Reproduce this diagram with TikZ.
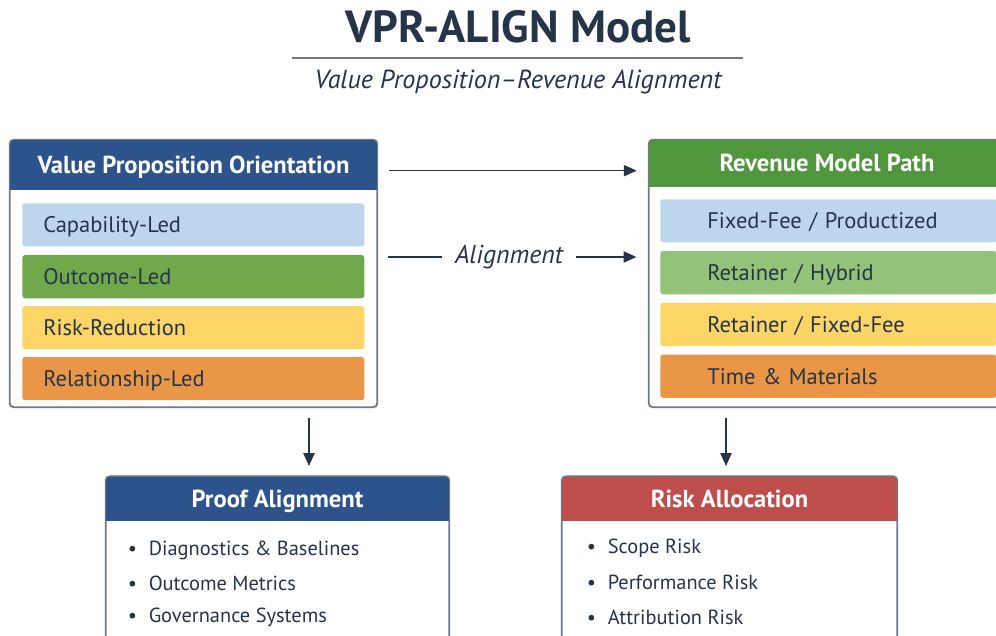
\documentclass[tikz,border=0pt]{standalone}
\usepackage{fontspec}
\setmainfont{PT Sans}
\usetikzlibrary{arrows.meta, positioning, calc}
\definecolor{cInk}{RGB}{38,52,74}
\definecolor{cFrame}{RGB}{112,122,134}
\definecolor{cNavy}{RGB}{45,83,140}
\definecolor{cGreen}{RGB}{79,150,61}
\definecolor{cRed}{RGB}{190,78,75}
\definecolor{cSky}{RGB}{190,214,236}
\definecolor{cLeaf}{RGB}{112,169,76}
\definecolor{cMint}{RGB}{146,195,121}
\definecolor{cSun}{RGB}{251,213,102}
\definecolor{cAmber}{RGB}{233,151,70}
\tikzset{
	panel/.style   ={rectangle, rounded corners=3pt, draw=cFrame, line width=0.8pt, fill=white},
	head/.style    ={rectangle, rounded corners=3pt, anchor=north, text depth=0pt, text=white, font=\bfseries\fontsize{17.5}{20}\selectfont},
	band/.style    ={rectangle, rounded corners=2pt, minimum height=1.08cm, anchor=north west, text depth=0pt, align=left, text=cInk, font=\fontsize{16}{19}\selectfont},
	item/.style    ={anchor=west, text=cInk, font=\fontsize{14.5}{17}\selectfont},
	flow/.style    ={-{Triangle[length=3.2mm, width=2.8mm]}, line width=1pt, draw=cInk},
}

\begin{document}
\begin{tikzpicture}[x=0.025cm, y=-0.025cm]
	\path[use as bounding box, clip] (0,0) rectangle (996,636);
	% title block
	\node[font=\bfseries\fontsize{32}{38}\selectfont, text=cInk] (title) at (518,27) {VPR-ALIGN Model};
	\draw[cFrame, line width=0.8pt] (292,58) -- (743,58);
	\node[font=\itshape\fontsize{18.6}{22}\selectfont, text=cInk] (subtitle) at (518,82) {Value Proposition–Revenue Alignment};

	% left panel: orientation
	\node[panel, minimum width=9.175cm, minimum height=6.675cm] (vpo) at (193.5,273.5) {};
	\node[head, fill=cNavy, minimum width=9.175cm, minimum height=1.25cm] (vpoHead) at (vpo.north) {Value Proposition Orientation};
	\fill[cNavy] ([yshift=4pt]vpoHead.south west) rectangle (vpoHead.south east);
	\draw[cFrame, line width=0.8pt, rounded corners=3pt] (vpo.north west) rectangle (vpo.south east);
	\node[band, fill=cSky, minimum width=8.55cm, text width=7.5cm, inner xsep=0.525cm] (vCap) at (22,203) {Capability-Led};
	\node[band, fill=cLeaf, minimum width=8.55cm, text width=7.5cm, inner xsep=0.525cm, below=0.2cm of vCap] (vOut) {Outcome-Led};
	\node[band, fill=cSun, minimum width=8.55cm, text width=7.5cm, inner xsep=0.525cm, below=0.18cm of vOut] (vRisk) {Risk-Reduction};
	\node[band, fill=cAmber, minimum width=8.55cm, text width=7.5cm, inner xsep=0.525cm, below=0.18cm of vRisk] (vRel) {Relationship-Led};

	% right panel: revenue model
	\node[panel, minimum width=8.9cm, minimum height=6.675cm] (rmp) at (827,273.5) {};
	\node[head, fill=cGreen, minimum width=8.9cm, minimum height=1.175cm] (rmpHead) at (rmp.north) {Revenue Model Path};
	\fill[cGreen] ([yshift=4pt]rmpHead.south west) rectangle (rmpHead.south east);
	\draw[cFrame, line width=0.8pt, rounded corners=3pt] (rmp.north west) rectangle (rmp.south east);
	\node[band, fill=cSky, minimum width=8.4cm, text width=6.05cm, inner xsep=1.175cm] (rFix) at (660,199) {Fixed-Fee / Productized};
	\node[band, fill=cMint, minimum width=8.4cm, text width=6.05cm, inner xsep=1.175cm, below=0.2cm of rFix] (rHyb) {Retainer / Hybrid};
	\node[band, fill=cSun, minimum width=8.4cm, text width=6.05cm, inner xsep=1.175cm, below=0.2cm of rHyb] (rRet) {Retainer / Fixed-Fee};
	\node[band, fill=cAmber, minimum width=8.4cm, text width=6.05cm, inner xsep=1.175cm, below=0.2cm of rRet] (rTM) {Time \& Materials};

	% links between the panels
	\coordinate (topL) at ([xshift=0.3cm, yshift=-0.15cm]vpoHead.east);
	\draw[flow, shorten >=0.3cm] (topL) -- (topL -| rmpHead.west);
	\node[font=\itshape\fontsize{18.4}{22}\selectfont, text=cInk] (alignTxt) at (509,257) {Alignment};
	\draw[cInk, line width=1pt, shorten <=0.25cm, shorten >=0.2cm] (alignTxt.west -| vpo.east) -- (alignTxt.west);
	\draw[flow, shorten <=0.2cm, shorten >=0.3cm] (alignTxt.east) -- (alignTxt.east -| rmp.west);

	% lower panels
	\node[panel, minimum width=8.575cm, minimum height=5cm, anchor=north] (proof) at (277.5,476) {};
	\node[head, fill=cNavy, minimum width=8.575cm, minimum height=1.1cm] (proofHead) at (proof.north) {Proof Alignment};
	\fill[cNavy] ([yshift=4pt]proofHead.south west) rectangle (proofHead.south east);
	\draw[cFrame, line width=0.8pt, rounded corners=3pt] (proof.north west) rectangle (proof.south east);
	\foreach \t [count=\i] in {Diagnostics \& Baselines, Outcome Metrics, Governance Systems}
		\node[item] (pf\i) at (123,{516.5+33.5*\i}) {\makebox[0.52cm][l]{\textbullet}\t};

	\node[panel, minimum width=8.375cm, minimum height=5cm, anchor=north] (risk) at (729.5,476) {};
	\node[head, fill=cRed, minimum width=8.375cm, minimum height=1.1cm] (riskHead) at (risk.north) {Risk Allocation};
	\fill[cRed] ([yshift=4pt]riskHead.south west) rectangle (riskHead.south east);
	\draw[cFrame, line width=0.8pt, rounded corners=3pt] (risk.north west) rectangle (risk.south east);
	\foreach \t [count=\i] in {Scope Risk, Performance Risk, Attribution Risk}
		\node[item] (rk\i) at (582,{513.5+34.5*\i}) {\makebox[0.52cm][l]{\textbullet}\t};

	% drops into the lower panels
	\coordinate (dropL) at (309,407);
	\coordinate (dropR) at (726,407);
	\draw[flow, shorten <=0.28cm, shorten >=0.25cm] (dropL) -- (dropL |- proof.north);
	\draw[flow, shorten <=0.28cm, shorten >=0.25cm] (dropR) -- (dropR |- risk.north);
\end{tikzpicture}
\end{document}
